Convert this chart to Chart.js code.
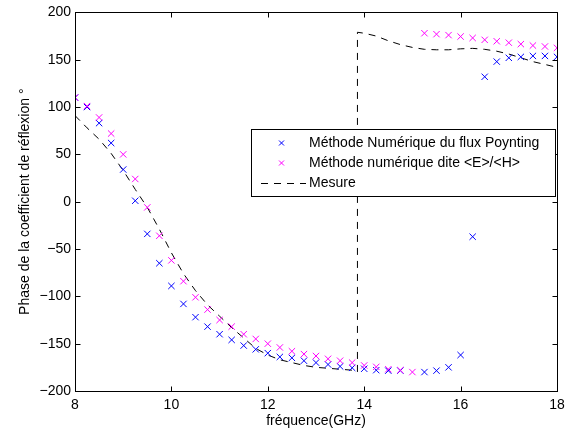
<!DOCTYPE html>
<html>
<head>
<meta charset="utf-8">
<script src="https://cdn.jsdelivr.net/npm/chart.js@4"></script>
<style>
    body { margin: 0; background: #fff; }
    #wrap { width: 571px; height: 434px; position: relative; }
</style>
</head>
<body>
<div id="wrap"><canvas id="myChart"></canvas></div>
<script>
// frequences (GHz) des points calcules
const freqs = [8, 8.25, 8.5, 8.75, 9, 9.25, 9.5, 9.75, 10, 10.25, 10.5, 10.75, 11, 11.25, 11.5, 11.75,
    12, 12.25, 12.5, 12.75, 13, 13.25, 13.5, 13.75, 14, 14.25, 14.5, 14.75, 15, 15.25, 15.5, 15.75,
    16, 16.25, 16.5, 16.75, 17, 17.25, 17.5, 17.75, 18];

const poynting = [110, 100, 83, 62, 34, 1, -34, -65, -89, -108, -122, -132, -140, -146, -152, -156,
    -160, -164, -165, -168, -170, -172, -174, -175.5, -176.5, -178, -178.5, -178.5, null, -180, -178.5, -175,
    -162, -37, 132, 148, 152, 153, 154, 154, 153];

const ehRatio = [110, 101, 89, 72, 50, 24, -6, -36, -62, -84, -101, -114, -125, -132, -140, -145,
    -150, -154, -158, -161, -163, -166, -168, -170, -173, -174.5, -177, -178, -180, 178, 177, 176,
    174.5, 173, 171, 169.5, 168, 166.5, 165, 164, 162.5];

const mesureFreq = [8, 8.25, 8.5, 8.75, 9, 9.25, 9.5, 9.75, 10, 10.25, 10.5, 10.75, 11, 11.25, 11.5, 11.75,
    12, 12.25, 12.5, 12.75, 13, 13.25, 13.5, 13.75, 13.86, 13.86, 14, 14.25, 14.5, 14.75, 15, 15.25,
    15.5, 15.75, 16, 16.25, 16.5, 16.75, 17, 17.25, 17.5, 17.75, 18];
const mesurePhase = [91, 78, 66, 51, 33, 13, -6, -29, -54, -76, -94, -109, -121, -133, -144, -155,
    -162, -167, -170, -173, -175, -176, -177, -178, -180, 179, 178, 175, 170, 166, 163, 161,
    160.5, 160.5, 161.5, 162, 161, 159, 156, 152, 148, 145, 142];

const legendNames = ["Méthode Numérique du flux Poynting", "Méthode numérique dite <E>/<H>", "Mesure"];

function toPoints(xs, ys) {
    const pts = [];
    for (let i = 0; i < xs.length; i++) {
        if (ys[i] !== null) pts.push({x: xs[i], y: ys[i]});
    }
    return pts;
}

Chart.defaults.font.family = "'Liberation Sans', Arial, sans-serif";
Chart.defaults.font.size = 14;
Chart.defaults.color = "#000";

// cadre + graduations vers l'interieur (style matlab)
const boxTicks = {
    id: 'boxTicks',
    afterDraw(chart) {
        const ctx = chart.ctx;
        const a = chart.chartArea;
        const xs = chart.scales.x;
        const ys = chart.scales.y;
        const l = Math.round(a.left) + 0.5, r = Math.round(a.right) + 0.5;
        const t = Math.round(a.top) + 0.5, b = Math.round(a.bottom) + 0.5;
        ctx.save();
        ctx.strokeStyle = "#000";
        ctx.lineWidth = 1;
        ctx.beginPath();
        ctx.rect(l, t, r - l, b - t);
        xs.ticks.forEach(tk => {
            const px = Math.round(xs.getPixelForValue(tk.value)) + 0.5;
            ctx.moveTo(px, b); ctx.lineTo(px, b - 5);
            ctx.moveTo(px, t); ctx.lineTo(px, t + 5);
        });
        ys.ticks.forEach(tk => {
            const py = Math.round(ys.getPixelForValue(tk.value)) + 0.5;
            ctx.moveTo(l, py); ctx.lineTo(l + 5, py);
            ctx.moveTo(r, py); ctx.lineTo(r - 5, py);
        });
        ctx.stroke();
        ctx.restore();
    }
};

// legende dans le graphe
const boxLegend = {
    id: 'boxLegend',
    afterDraw(chart) {
        const ctx = chart.ctx;
        const x0 = 251.5, y0 = 129.5, w = 304, h = 67;
        ctx.save();
        ctx.fillStyle = "#fff";
        ctx.fillRect(x0, y0, w, h);
        ctx.strokeStyle = "#000";
        ctx.lineWidth = 1;
        ctx.strokeRect(x0, y0, w, h);
        const rows = [143, 163, 183.5];
        const cols = ["#0000ff", "#ff00ff"];
        for (let i = 0; i < 2; i++) {
            ctx.strokeStyle = cols[i];
            ctx.beginPath();
            ctx.moveTo(279, rows[i] - 2.5); ctx.lineTo(284, rows[i] + 2.5);
            ctx.moveTo(279, rows[i] + 2.5); ctx.lineTo(284, rows[i] - 2.5);
            ctx.stroke();
        }
        ctx.strokeStyle = "#000";
        ctx.setLineDash([7, 6]);
        ctx.beginPath();
        ctx.moveTo(261, rows[2]); ctx.lineTo(306, rows[2]);
        ctx.stroke();
        ctx.setLineDash([]);
        ctx.fillStyle = "#000";
        ctx.font = "14px 'Liberation Sans', Arial, sans-serif";
        ctx.textBaseline = "middle";
        for (let i = 0; i < 3; i++) {
            ctx.fillText(legendNames[i], 309, rows[i]);
        }
        ctx.restore();
    }
};

new Chart(document.getElementById('myChart'), {
    type: 'scatter',
    data: {
        datasets: [{
            label: legendNames[0],
            data: toPoints(freqs, poynting),
            pointStyle: 'crossRot',
            pointRadius: 4.5,
            pointBorderWidth: 1,
            borderColor: '#0000ff',
            backgroundColor: '#0000ff',
            order: 1
        }, {
            label: legendNames[1],
            data: toPoints(freqs, ehRatio),
            pointStyle: 'crossRot',
            pointRadius: 4.5,
            pointBorderWidth: 1,
            borderColor: '#ff00ff',
            backgroundColor: '#ff00ff',
            order: 0
        }, {
            label: legendNames[2],
            data: toPoints(mesureFreq, mesurePhase),
            showLine: true,
            pointRadius: 0,
            borderColor: '#000',
            borderWidth: 1,
            borderDash: [7, 6],
            tension: 0,
            order: 2
        }]
    },
    options: {
        responsive: true,
        maintainAspectRatio: false,
        animation: false,
        layout: { padding: { top: 12, right: 14, left: 0, bottom: 0 } },
        plugins: {
            legend: { display: false },
            tooltip: { enabled: false }
        },
        scales: {
            x: {
                type: 'linear',
                min: 8,
                max: 18,
                afterFit: (s) => { s.height = 43; },
                grid: { display: false, drawTicks: false },
                border: { display: true, color: '#000' },
                ticks: { stepSize: 2, padding: 6, maxRotation: 0 },
                title: { display: true, text: 'fréquence(GHz)', padding: { top: 0, bottom: 4 } }
            },
            y: {
                min: -200,
                max: 200,
                afterFit: (s) => { s.width = 75; },
                grid: { display: false, drawTicks: false },
                border: { display: true, color: '#000' },
                ticks: {
                    stepSize: 50,
                    padding: 4,
                    callback: (v) => v < 0 ? '\u2212' + Math.abs(v) : '' + v
                },
                title: { display: true, text: 'Phase de la coefficient de réflexion °', padding: { top: 17, bottom: 0 } }
            }
        }
    },
    plugins: [boxTicks, boxLegend]
});
</script>
</body>
</html>
